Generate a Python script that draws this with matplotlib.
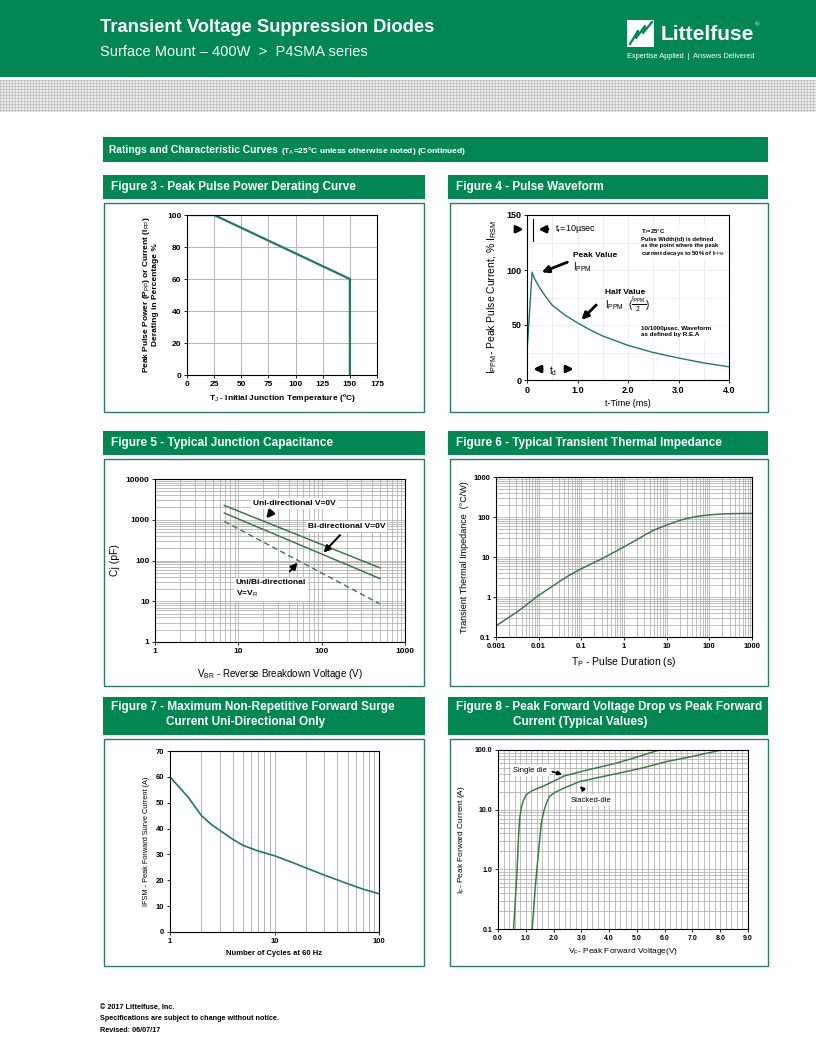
import numpy as np
import matplotlib.pyplot as plt
from matplotlib.patches import Rectangle
from matplotlib.ticker import NullFormatter, LogLocator, MultipleLocator

plt.rcParams['font.family'] = ['Liberation Sans Narrow', 'Liberation Sans', 'DejaVu Sans']
plt.rcParams['mathtext.fontset'] = 'custom'
plt.rcParams['mathtext.rm'] = 'Liberation Sans'
plt.rcParams['mathtext.default'] = 'rm'

# ---- data ----
# Figure 3 - derating
derate_temp = [0, 25, 150, 150]
derate_pct = [100, 100, 60, 0]

# Figure 4 - pulse waveform (ms, % Ippm)
pulse_t = [0.0, 0.1, 0.15, 0.25, 0.35, 0.5, 0.75, 1.0, 1.25, 1.5, 2.0, 2.5, 3.0, 3.5, 4.0]
pulse_i = [25, 98, 92, 84, 77, 68, 59, 52, 45.5, 40, 31.5, 25, 20, 15.5, 12]

# Figure 5 - junction capacitance
cap_vbr = [6.8, 500]
cap_uni = [2240, 66]
cap_bi = [1460, 36]
cap_vr = [910, 8.6]

# Figure 6 - transient thermal impedance
zth_tp = [0.001, 0.002, 0.003, 0.005, 0.01, 0.02, 0.03, 0.05, 0.1, 0.2, 0.3, 0.5,
          1, 2, 3, 5, 10, 20, 30, 50, 100, 200, 300, 500, 1000]
zth_val = [0.19, 0.31, 0.41, 0.62, 1.1, 1.8, 2.4, 3.4, 5.1, 7.3, 9.0, 12,
           18, 27, 35, 47, 63, 82, 92, 103, 113, 119, 121, 122, 123]

# Figure 7 - forward surge current
surge_n = [1, 1.5, 2, 2.5, 3, 4, 5, 7, 10, 15, 20, 30, 50, 70, 100]
surge_a = [60, 52, 45, 41.5, 39.3, 35.8, 33.5, 31.3, 29.5, 26.8, 24.8, 22, 18.7, 16.6, 14.8]

# Figure 8 - forward voltage drop
single_vf = [0.56, 0.60, 0.65, 0.69, 0.73, 0.78, 0.84, 0.92, 1.02, 1.2, 1.4, 1.62, 2.0, 2.4, 3.2, 4.25, 5.0, 5.8]
single_if = [0.1, 0.2, 0.5, 1.0, 3.0, 7.0, 11, 14.5, 17.8, 20.5, 22.5, 24.6, 30, 37, 46, 60, 76, 100]
stacked_vf = [1.23, 1.28, 1.34, 1.40, 1.48, 1.56, 1.65, 1.76, 1.86, 2.05, 2.34, 2.93, 3.6, 4.25, 5.2, 6.05, 7.1, 8.05]
stacked_if = [0.1, 0.2, 0.5, 1.0, 2.5, 6.0, 9.5, 13.5, 16.7, 19.5, 22.6, 29.5, 34.5, 40, 50, 63.7, 80, 100]

GREEN = '#008752'
BORDER = '#2f7a62'
TEAL = '#1f7a5e'
DGREEN = '#3d7a4a'
GRID = '#b4b4b4'

W, H = 816, 1056
fig = plt.figure(figsize=(W / 100, H / 100), dpi=100)

# background axes in pixel coordinates for the page decoration
bg = fig.add_axes([0, 0, 1, 1])
bg.set_xlim(0, W)
bg.set_ylim(H, 0)
bg.axis('off')

bg.add_patch(Rectangle((0, 0), W, 77, fc=GREEN, ec='none'))
rows = np.arange(32)[:, None]
cols = np.arange(W)[None, :]
pattern = np.where((rows % 3 == 0) | (cols % 3 == 0), 0.78, 0.93)
bg.imshow(pattern, cmap='gray', vmin=0, vmax=1, extent=[0, W, 112, 80],
          interpolation='nearest', aspect='auto')

bg.text(100, 27, 'Transient Voltage Suppression Diodes', color='white',
        fontsize=13.2, fontweight='bold', va='center')
bg.text(100, 52, 'Surface Mount – 400W  >  P4SMA series', color='white',
        fontsize=10.5, va='center')

# logo
bg.add_patch(Rectangle((627, 20), 27, 27, fc='white', ec='none'))
bg.plot([630, 638, 636, 645, 643, 652], [44, 31, 38, 26, 33, 22], color=GREEN, lw=1.6)
bg.text(661, 34, 'Littelfuse', color='white', fontsize=15, fontweight='bold', va='center')
bg.text(755, 25, '®', color='white', fontsize=4.5, va='center')
bg.text(627, 57, 'Expertise Applied  |  Answers Delivered', color='white', fontsize=5.3, va='center')

bg.set_xlim(0, W)
bg.set_ylim(H, 0)


def header_bar(x0, y0, x1, y1, lines, indent=None):
    bg.add_patch(Rectangle((x0, y0), x1 - x0, y1 - y0, fc=GREEN, ec='none'))
    if len(lines) == 1:
        bg.text(x0 + 8, (y0 + y1) / 2, lines[0], color='white', fontsize=8.5,
                fontweight='bold', va='center')
    else:
        bg.text(x0 + 8, y0 + 10, lines[0], color='white', fontsize=8.5,
                fontweight='bold', va='center')
        bg.text(indent, y0 + 25, lines[1], color='white', fontsize=8.5,
                fontweight='bold', va='center')


def panel(x0, y0, x1, y1):
    bg.add_patch(Rectangle((x0, y0), x1 - x0, y1 - y0, fill=False, ec=BORDER, lw=1.0))


def px_axes(x0, y0, x1, y1):
    return fig.add_axes([x0 / W, 1 - y1 / H, (x1 - x0) / W, (y1 - y0) / H])


# section bar
bg.add_patch(Rectangle((103, 137), 665, 25, fc=GREEN, ec='none'))
bg.text(109, 150, 'Ratings and Characteristic Curves', color='white', fontsize=7.4,
        fontweight='bold', va='center')
bg.text(281, 151, '(T$_A$=25°C unless otherwise noted) (Continued)', color='white',
        fontsize=6, fontweight='bold', va='center')

header_bar(103, 175, 425, 199, ['Figure 3 - Peak Pulse Power Derating Curve'])
header_bar(448, 175, 768, 199, ['Figure 4 - Pulse Waveform'])
header_bar(103, 431, 425, 455, ['Figure 5 - Typical Junction Capacitance'])
header_bar(448, 431, 768, 455, ['Figure 6 - Typical Transient Thermal Impedance'])
header_bar(103, 697, 425, 735, ['Figure 7 - Maximum Non-Repetitive Forward Surge',
                                'Current Uni-Directional Only'], indent=166)
header_bar(448, 697, 768, 735, ['Figure 8 - Peak Forward Voltage Drop vs Peak Forward',
                                'Current (Typical Values)'], indent=513)

panel(104, 203, 424, 412)
panel(450, 203, 768, 412)
panel(104, 459, 424, 686)
panel(450, 459, 768, 686)
panel(104, 739, 424, 966)
panel(450, 739, 768, 966)

# footer
bg.text(100, 1008, '© 2017 Littelfuse, Inc.', fontsize=5.2, fontweight='bold', va='center')
bg.text(100, 1019, 'Specifications are subject to change without notice.', fontsize=5.2,
        fontweight='bold', va='center')
bg.text(100, 1030, 'Revised: 06/07/17', fontsize=5.2, fontweight='bold', va='center')


def style(ax, fs=6, bold=True):
    ax.tick_params(labelsize=fs, length=2, width=0.6, pad=2)
    for lab in ax.get_xticklabels() + ax.get_yticklabels():
        lab.set_fontweight('bold' if bold else 'normal')
    for s in ax.spines.values():
        s.set_linewidth(0.8)
        s.set_color('black')


arrow_kw = dict(arrowstyle='-|>', color='black', lw=2.0, mutation_scale=10)

# ---- Figure 3 ----
ax3 = px_axes(187, 215, 377, 375)
ax3.plot(derate_temp, derate_pct, color=TEAL, lw=1.6)
ax3.set_xlim(0, 175)
ax3.set_ylim(0, 100)
ax3.set_xticks(np.arange(0, 176, 25))
ax3.set_yticks(np.arange(0, 101, 20))
ax3.grid(True, color=GRID, lw=0.7)
ax3.set_axisbelow(True)
style(ax3, 6)
ax3.set_xlabel('T$_J$ - Initial Junction Temperature (ºC)', fontsize=6, fontweight='bold', labelpad=3)
ax3.set_ylabel('Peak Pulse Power (P$_{PP}$) or Current (I$_{PP}$)\nDerating in Percentage %',
               fontsize=6, fontweight='bold', labelpad=6, linespacing=1.0)

# ---- Figure 4 ----
ax4 = px_axes(527, 215, 729, 380)
ax4.plot(pulse_t, pulse_i, color=TEAL, lw=1.0)
ax4.set_xlim(0, 4.0)
ax4.set_ylim(0, 150)
ax4.set_xticks([0, 1.0, 2.0, 3.0, 4.0], ['0', '1.0', '2.0', '3.0', '4.0'])
ax4.set_yticks([0, 50, 100, 150])
ax4.xaxis.set_minor_locator(MultipleLocator(0.5))
ax4.yaxis.set_minor_locator(MultipleLocator(25))
ax4.grid(True, which='both', color='#ececec', lw=0.6)
ax4.tick_params(which='minor', length=0)
style(ax4, 6.5)
ax4.set_xlabel('t-Time (ms)', fontsize=6.5, labelpad=3)
ax4.set_ylabel('I$_{PPM}$- Peak Pulse Current, % I$_{RSM}$', fontsize=7.5, labelpad=5)
ax4.annotate('', xy=(-0.01, 137), xytext=(-0.28, 137), arrowprops=arrow_kw, annotation_clip=False)
ax4.plot([0.12, 0.12], [126, 146], color='black', lw=0.8)
ax4.annotate('', xy=(0.17, 137), xytext=(0.47, 137), arrowprops=arrow_kw)
ax4.text(0.55, 137, 't$_r$=10µsec', fontsize=6.5, va='center')
ax4.text(0.92, 113, 'Peak Value', fontsize=6, fontweight='bold', va='center')
ax4.text(0.92, 103, 'I$_{PPM}$', fontsize=7, va='center')
ax4.annotate('', xy=(0.24, 97), xytext=(0.85, 108), arrowprops=arrow_kw)
ax4.text(1.54, 80, 'Half Value', fontsize=6, fontweight='bold', va='center')
ax4.text(1.54, 69, r'I$_{PPM}$  $(\frac{I_{PPM}}{2})$', fontsize=7, va='center')
ax4.annotate('', xy=(1.04, 53), xytext=(1.41, 70), arrowprops=arrow_kw)
ax4.text(2.26, 139, 'T$_J$=25°C\nPulse Width(td) is defined\nas the point where the peak\n'
         'current decays to 50% of I$_{PPM}$', fontsize=4.2, fontweight='bold', va='top',
         linespacing=1.25, bbox=dict(fc='white', ec='none', pad=1))
ax4.text(2.26, 44, '10/1000µsec. Waveform\nas defined by R.E.A', fontsize=4.5,
         fontweight='bold', va='center', linespacing=1.4,
         bbox=dict(fc='white', ec='none', pad=1))
ax4.annotate('', xy=(0.07, 10), xytext=(0.35, 10), arrowprops=arrow_kw)
ax4.text(0.43, 8, 't$_d$', fontsize=7, va='center')
ax4.annotate('', xy=(0.98, 10), xytext=(0.72, 10), arrowprops=arrow_kw)

# ---- Figure 5 ----
ax5 = px_axes(155, 479, 405, 642)
ax5.plot(cap_vbr, cap_uni, color=DGREEN, lw=1.1)
ax5.plot(cap_vbr, cap_bi, color=DGREEN, lw=1.1)
ax5.plot(cap_vbr, cap_vr, color=DGREEN, lw=1.0, ls=(0, (4, 2.5)))
ax5.set_xscale('log')
ax5.set_yscale('log')
ax5.set_xlim(1, 1000)
ax5.set_ylim(1, 10000)
ax5.set_xticks([1, 10, 100, 1000], ['1', '10', '100', '1000'])
ax5.set_yticks([1, 10, 100, 1000, 10000], ['1', '10', '100', '1000', '10000'])
ax5.xaxis.set_minor_formatter(NullFormatter())
ax5.yaxis.set_minor_formatter(NullFormatter())
ax5.grid(True, which='both', color=GRID, lw=0.6)
ax5.set_axisbelow(True)
ax5.tick_params(which='minor', length=0)
style(ax5, 6)
ax5.set_xlabel('V$_{BR}$ - Reverse Breakdown Voltage (V)', fontsize=7, labelpad=9)
ax5.set_ylabel('Cj (pF)', fontsize=7.5, labelpad=4)
bbox_w = dict(fc='white', ec='none', pad=1.5)
ax5.text(15, 2450, 'Uni-directional V=0V', fontsize=6, fontweight='bold', va='center', bbox=bbox_w)
ax5.annotate('', xy=(20.5, 950), xytext=(26, 1700), arrowprops=arrow_kw)
ax5.text(68, 690, 'Bi-directional V=0V', fontsize=6, fontweight='bold', va='center', bbox=bbox_w)
ax5.annotate('', xy=(100, 140), xytext=(175, 470),
             arrowprops=dict(arrowstyle='-|>', color='black', lw=1.4, mutation_scale=10))
ax5.text(9.3, 20, 'Uni/Bi-directional\nV=V$_R$', fontsize=6, fontweight='bold', va='center',
         linespacing=1.5, bbox=bbox_w)
ax5.annotate('', xy=(54, 100), xytext=(39.5, 48),
             arrowprops=dict(arrowstyle='-|>', color='black', lw=1.4, mutation_scale=10))

# ---- Figure 6 ----
ax6 = px_axes(496, 477, 752, 637)
ax6.plot(zth_tp, zth_val, color=DGREEN, lw=1.1)
ax6.set_xscale('log')
ax6.set_yscale('log')
ax6.set_xlim(0.001, 1000)
ax6.set_ylim(0.1, 1000)
ax6.set_xticks([0.001, 0.01, 0.1, 1, 10, 100, 1000],
               ['0.001', '0.01', '0.1', '1', '10', '100', '1000'])
ax6.set_yticks([0.1, 1, 10, 100, 1000], ['0.1', '1', '10', '100', '1000'])
ax6.xaxis.set_minor_formatter(NullFormatter())
ax6.yaxis.set_minor_formatter(NullFormatter())
ax6.grid(True, which='both', color=GRID, lw=0.6)
ax6.set_axisbelow(True)
ax6.tick_params(which='minor', length=0)
style(ax6, 5.5)
ax6.set_xlabel('T$_P$ - Pulse Duration (s)', fontsize=7.5, labelpad=4)
ax6.set_ylabel('Transient Thermal Impedance  (°C/W)', fontsize=6.5, labelpad=3)

# ---- Figure 7 ----
ax7 = px_axes(170, 751, 379, 932)
ax7.plot(surge_n, surge_a, color=TEAL, lw=1.2)
ax7.set_xscale('log')
ax7.set_xlim(1, 100)
ax7.set_ylim(0, 70)
ax7.set_xticks([1, 10, 100], ['1', '10', '100'])
ax7.set_yticks(np.arange(0, 71, 10))
ax7.xaxis.set_minor_locator(LogLocator(base=10, subs=np.arange(2, 10)))
ax7.xaxis.set_minor_formatter(NullFormatter())
ax7.grid(True, axis='x', which='both', color=GRID, lw=0.7)
ax7.set_axisbelow(True)
ax7.tick_params(which='minor', length=0)
style(ax7, 5.5)
ax7.set_xlabel('Number of Cycles at 60 Hz', fontsize=5.5, fontweight='bold', labelpad=4)
ax7.set_ylabel('IFSM - Peak Forward Surve Current (A)', fontsize=5.3, labelpad=4)

# ---- Figure 8 ----
ax8 = px_axes(498, 750, 748, 929)
ax8.plot(single_vf, single_if, color=DGREEN, lw=1.1)
ax8.plot(stacked_vf, stacked_if, color=DGREEN, lw=1.1)
ax8.set_yscale('log')
ax8.set_xlim(0, 9)
ax8.set_ylim(0.1, 100)
ax8.set_xticks(np.arange(0, 9.1, 1.0), [f'{v:.1f}' for v in np.arange(0, 9.1, 1.0)])
ax8.set_yticks([0.1, 1, 10, 100], ['0.1', '1.0', '10.0', '100.0'])
ax8.xaxis.set_minor_locator(MultipleLocator(0.2))
ax8.yaxis.set_minor_formatter(NullFormatter())
ax8.grid(True, which='both', color=GRID, lw=0.6)
ax8.set_axisbelow(True)
ax8.tick_params(which='minor', length=0)
style(ax8, 5)
ax8.set_xlabel('V$_F$- Peak Forward Voltage(V)', fontsize=6, labelpad=3)
ax8.set_ylabel('I$_F$- Peak Forward Current (A)', fontsize=6, labelpad=6)
ax8.text(0.55, 46, 'Single die', fontsize=5.5, va='center', bbox=bbox_w)
ax8.annotate('', xy=(2.4, 38), xytext=(1.86, 44.5),
             arrowprops=dict(arrowstyle='-|>', color='black', lw=1.2, mutation_scale=6))
ax8.text(2.63, 14.5, 'Stacked-die', fontsize=5.5, va='center', bbox=bbox_w)
ax8.annotate('', xy=(2.87, 26.5), xytext=(3.17, 19.8),
             arrowprops=dict(arrowstyle='-|>', color='black', lw=1.2, mutation_scale=6))

fig.savefig('out.png', dpi=100)
